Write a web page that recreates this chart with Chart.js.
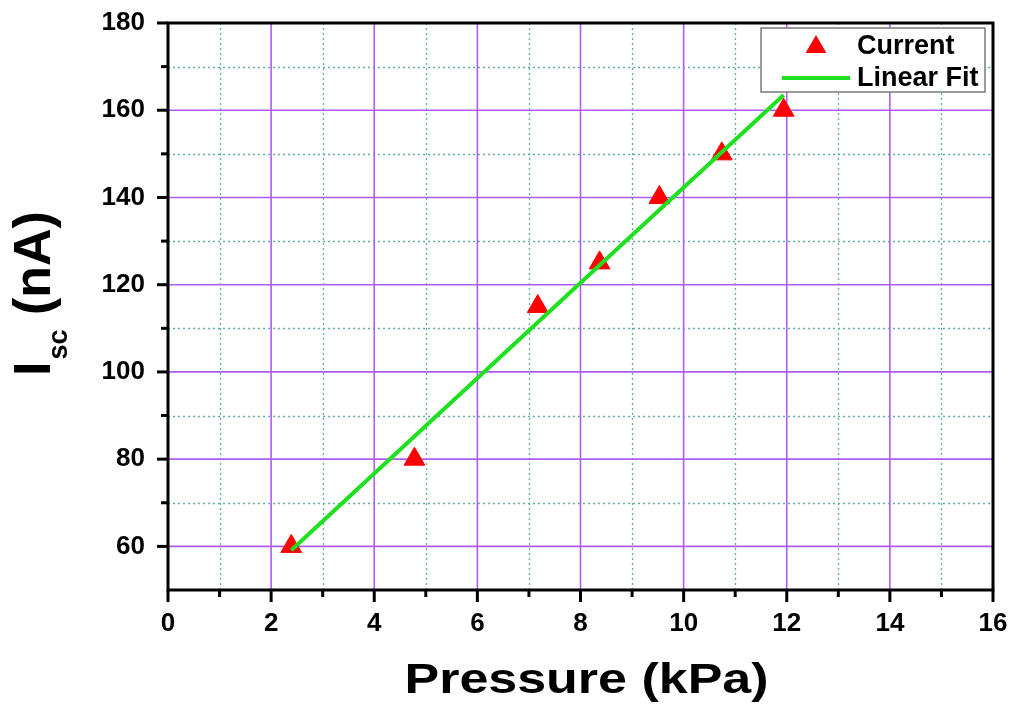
<!DOCTYPE html>
<html>
<head>
<meta charset="utf-8">
<script src="https://cdn.jsdelivr.net/npm/chart.js@4.4.1/dist/chart.umd.min.js"></script>
<style>
  html, body { margin: 0; padding: 0; background: #ffffff; }
  #wrap { width: 1013px; height: 709px; position: relative; }
</style>
</head>
<body>
<div id="wrap"><canvas id="chart"></canvas></div>
<script>
// Measured short-circuit current versus applied pressure
const pressureKPa = [2.39, 4.78, 7.17, 8.37, 9.53, 10.74, 11.94];
const currentNA   = [60, 80, 115, 125, 140, 150, 160];

// End points of the linear fit line
const fitPressure = [2.39, 11.94];
const fitCurrent  = [59.1, 163.5];

// Labelled tick values
const xTickLabels = [0, 2, 4, 6, 8, 10, 12, 14, 16];
const yTickLabels = [60, 80, 100, 120, 140, 160, 180];

const FONT = "'Liberation Sans', Arial, Helvetica, sans-serif";
const MAJOR_GRID = '#ad5cf7';
const MINOR_GRID = '#62ada2';
const POINT_RED = '#ff0000';
const FIT_GREEN = '#1fe01f';

const currentPoints = pressureKPa.map((p, i) => ({ x: p, y: currentNA[i] }));
const fitPoints = fitPressure.map((p, i) => ({ x: p, y: fitCurrent[i] }));

function strokeLine(ctx, x1, y1, x2, y2) {
  ctx.beginPath();
  ctx.moveTo(x1, y1);
  ctx.lineTo(x2, y2);
  ctx.stroke();
}

function drawTriangle(ctx, cx, cy, r) {
  const a = 2 * Math.PI / 3;
  ctx.beginPath();
  ctx.moveTo(cx, cy - r);
  ctx.lineTo(cx + Math.sin(a) * r, cy - Math.cos(a) * r);
  ctx.lineTo(cx + Math.sin(2 * a) * r, cy - Math.cos(2 * a) * r);
  ctx.closePath();
  ctx.fill();
}

// Grid (major solid, minor dotted), frame and outward tick marks
const gridFrame = {
  id: 'gridFrame',
  beforeDatasetsDraw(chart) {
    const { ctx, chartArea: a, scales: { x, y } } = chart;
    ctx.save();
    ctx.lineWidth = 1.3;
    ctx.strokeStyle = MINOR_GRID;
    ctx.setLineDash([2, 3]);
    x.ticks.forEach(t => {
      if (t.value % 2 !== 0) {
        const px = Math.round(x.getPixelForValue(t.value)) + 0.5;
        strokeLine(ctx, px, a.top, px, a.bottom);
      }
    });
    y.ticks.forEach(t => {
      if (t.value % 20 !== 0 && t.value > y.min) {
        const py = Math.round(y.getPixelForValue(t.value)) + 0.5;
        strokeLine(ctx, a.left, py, a.right, py);
      }
    });
    ctx.setLineDash([]);
    ctx.lineWidth = 1.6;
    ctx.strokeStyle = MAJOR_GRID;
    x.ticks.forEach(t => {
      if (t.value % 2 === 0 && t.value > x.min && t.value < x.max) {
        const px = x.getPixelForValue(t.value);
        strokeLine(ctx, px, a.top, px, a.bottom);
      }
    });
    y.ticks.forEach(t => {
      if (t.value % 20 === 0 && t.value > y.min && t.value < y.max) {
        const py = y.getPixelForValue(t.value);
        strokeLine(ctx, a.left, py, a.right, py);
      }
    });
    ctx.restore();
  },
  afterDatasetsDraw(chart) {
    const { ctx, chartArea: a, scales: { x, y } } = chart;
    ctx.save();
    ctx.strokeStyle = '#000000';
    ctx.lineWidth = 3;
    ctx.lineCap = 'square';
    ctx.strokeRect(a.left, a.top, a.right - a.left, a.bottom - a.top);
    ctx.lineCap = 'butt';
    x.ticks.forEach(t => {
      const px = x.getPixelForValue(t.value);
      const len = t.value % 2 === 0 ? 12 : 7;
      strokeLine(ctx, px, a.bottom, px, a.bottom + len);
    });
    y.ticks.forEach(t => {
      if (t.value <= y.min) return;
      const py = y.getPixelForValue(t.value);
      const len = t.value % 20 === 0 ? 11 : 7;
      strokeLine(ctx, a.left - len, py, a.left, py);
    });
    ctx.restore();
  }
};

// Axis titles: y title carries a subscript, x title is set wide
const axisTitles = {
  id: 'axisTitles',
  afterDraw(chart) {
    const { ctx, chartArea: a } = chart;
    ctx.save();
    ctx.fillStyle = '#000000';
    ctx.textBaseline = 'alphabetic';
    ctx.textAlign = 'left';

    // x title
    const xt = 'Pressure (kPa)';
    ctx.font = 'bold 43px ' + FONT;
    const w = ctx.measureText(xt).width;
    const targetW = 364;
    const cx = (a.left + a.right) / 2 + 6;
    ctx.save();
    ctx.translate(cx - targetW / 2, 693);
    ctx.scale(targetW / w, 1);
    ctx.fillText(xt, 0, 0);
    ctx.restore();

    // y title, rotated
    ctx.save();
    ctx.translate(50, 376);
    ctx.rotate(-Math.PI / 2);
    let pos = 0;
    ctx.font = 'bold 52px ' + FONT;
    ctx.fillText('I', pos, 0);
    pos += ctx.measureText('I').width;
    ctx.font = 'bold 27px ' + FONT;
    ctx.fillText('sc', pos + 2, 17);
    pos += ctx.measureText('sc').width + 2;
    ctx.font = 'bold 52px ' + FONT;
    ctx.fillText(' (nA)', pos, 0);
    ctx.restore();

    ctx.restore();
  }
};

// Legend box inside the plot's upper right corner
const insideLegend = {
  id: 'insideLegend',
  afterDraw(chart) {
    const { ctx, chartArea: a } = chart;
    const ds = chart.data.datasets;
    const pts = ds.find(d => d.label === 'Current');
    const fit = ds.find(d => d.label === 'Linear Fit');
    const bx = a.right - 232, by = a.top + 5, bw = 224, bh = 64;
    ctx.save();
    ctx.fillStyle = '#ffffff';
    ctx.fillRect(bx, by, bw, bh);
    ctx.strokeStyle = '#7a7a7a';
    ctx.lineWidth = 1.5;
    ctx.strokeRect(bx, by, bw, bh);

    ctx.fillStyle = pts.backgroundColor;
    drawTriangle(ctx, bx + 55, by + 19, 12);
    ctx.strokeStyle = fit.borderColor;
    ctx.lineWidth = fit.borderWidth;
    strokeLine(ctx, bx + 21, by + 50, bx + 89, by + 50);

    ctx.fillStyle = '#000000';
    ctx.font = 'bold 27px ' + FONT;
    ctx.textBaseline = 'alphabetic';
    ctx.textAlign = 'left';
    ctx.fillText(pts.label, bx + 96, by + 26);
    ctx.fillText(fit.label, bx + 96, by + 58);
    ctx.restore();
  }
};

new Chart(document.getElementById('chart'), {
  type: 'scatter',
  data: {
    datasets: [
      {
        label: 'Current',
        data: currentPoints,
        pointStyle: 'triangle',
        pointRadius: 12,
        pointHoverRadius: 12,
        backgroundColor: POINT_RED,
        borderColor: POINT_RED,
        borderWidth: 1,
        showLine: false,
        order: 1
      },
      {
        label: 'Linear Fit',
        data: fitPoints,
        showLine: true,
        pointRadius: 0,
        borderColor: FIT_GREEN,
        borderWidth: 4,
        fill: false,
        order: 0
      }
    ]
  },
  options: {
    responsive: true,
    maintainAspectRatio: false,
    animation: false,
    devicePixelRatio: 1,
    layout: { padding: { top: 23, right: 20, left: 0, bottom: 0 } },
    plugins: {
      legend: { display: false },
      tooltip: { enabled: false },
      title: { display: false }
    },
    scales: {
      x: {
        type: 'linear',
        min: 0,
        max: 16,
        afterFit(scale) {
          scale.height = 119;
          scale.paddingLeft = 0;
          scale.paddingRight = 0;
        },
        grid: { display: false, drawTicks: false },
        border: { display: false },
        ticks: {
          stepSize: 1,
          autoSkip: false,
          maxRotation: 0,
          padding: 18,
          color: '#000000',
          font: { family: FONT, size: 26, weight: 'bold' },
          callback: v => (xTickLabels.includes(v) ? String(v) : '')
        }
      },
      y: {
        type: 'linear',
        min: 50,
        max: 180,
        afterFit(scale) {
          scale.width = 168;
          scale.paddingTop = 0;
          scale.paddingBottom = 0;
        },
        grid: { display: false, drawTicks: false },
        border: { display: false },
        ticks: {
          stepSize: 10,
          autoSkip: false,
          padding: 23,
          color: '#000000',
          font: { family: FONT, size: 26, weight: 'bold' },
          callback: v => (yTickLabels.includes(v) ? String(v) : '')
        }
      }
    }
  },
  plugins: [gridFrame, axisTitles, insideLegend]
});
</script>
</body>
</html>
